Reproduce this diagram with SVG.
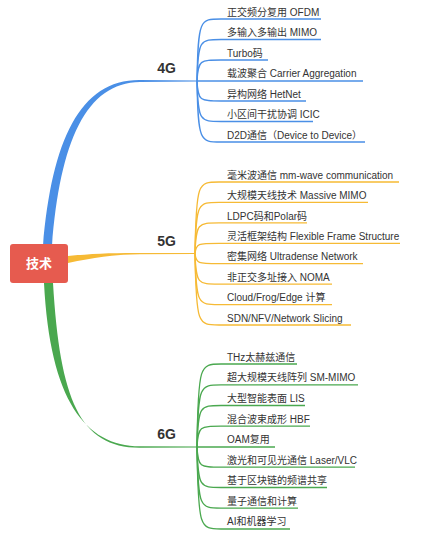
<svg xmlns="http://www.w3.org/2000/svg" width="425" height="537" viewBox="0 0 425 537">
<style>
.leaf{font-family:"Liberation Sans","Noto Sans CJK SC",sans-serif;font-size:10px;fill:#333}
.lbl{font-family:"Liberation Sans","Noto Sans CJK SC",sans-serif;font-size:14px;font-weight:bold;fill:#333;text-anchor:middle}
.b{fill:none;stroke:#4A8FE6;stroke-width:1.3}
.y{fill:none;stroke:#F6BA35;stroke-width:1.3}
.g{fill:none;stroke:#4AA84F;stroke-width:1.3}
</style>
<rect width="425" height="537" fill="#fff"/>
<g id="connectors">
<path d="M43,246 C52,140 80,79.5 140,80 L197,80.4 L197,81.6 L140,82 C86,82.5 60,142 52,246 Z" fill="#4A8FE6"/>
<path d="M68,256 C92,253.5 112,252.8 140,252.9 L195,253 L195,254 L140,254.2 C112,254.6 94,257.5 68,263 Z" fill="#F6BA35"/>
<path d="M44,283 C50,400 85,446 140,446.3 L197,446.4 L197,447.6 L140,447.7 C80,448 60,400 53,283 Z" fill="#4AA84F"/>
<g class="b">
<path d="M197,81 C198,19 200,19 221,19 L321,19"/>
<path d="M197,81 C198,39.5 200,39.5 221,39.5 L321,39.5"/>
<path d="M197,81 C198,60 200,60 221,60 L268,60"/>
<path d="M197,81 L363,81"/>
<path d="M197,81 C198,101 200,101 221,101 L306,101"/>
<path d="M197,81 C198,121.5 200,121.5 221,121.5 L313,121.5"/>
<path d="M197,81 C198,142 200,142 221,142 L365,142"/>
</g>
<g class="y">
<path d="M195,253.5 C196,182 198,182 219,182 L399,182"/>
<path d="M195,253.5 C196,202.4 198,202.4 219,202.4 L368,202.4"/>
<path d="M195,253.5 C196,222.9 198,222.9 219,222.9 L307,222.9"/>
<path d="M195,253.5 C196,243.3 198,243.3 219,243.3 L400,243.3"/>
<path d="M195,253.5 C196,263.7 198,263.7 219,263.7 L363,263.7"/>
<path d="M195,253.5 C196,284.2 198,284.2 219,284.2 L332,284.2"/>
<path d="M195,253.5 C196,304.6 198,304.6 219,304.6 L332,304.6"/>
<path d="M195,253.5 C196,325 198,325 219,325 L351,325"/>
</g>
<g class="g">
<path d="M197,447 C198,364 200,364 221,364 L297,364"/>
<path d="M197,447 C198,384.8 200,384.8 221,384.8 L358,384.8"/>
<path d="M197,447 C198,405.5 200,405.5 221,405.5 L305,405.5"/>
<path d="M197,447 C198,426.2 200,426.2 221,426.2 L310,426.2"/>
<path d="M197,447 L275,447"/>
<path d="M197,447 C198,467.2 200,467.2 221,467.2 L355,467.2"/>
<path d="M197,447 C198,487.5 200,487.5 221,487.5 L327,487.5"/>
<path d="M197,447 C198,508.2 200,508.2 221,508.2 L298,508.2"/>
<path d="M197,447 C198,529 200,529 221,529 L290,529"/>
</g>
</g>
<g id="root">
<rect x="10" y="244" width="58" height="39" rx="3" fill="#E65B4F"/>
<text x="39" y="268" font-family="Liberation Sans,Noto Sans CJK SC,sans-serif" font-size="13" font-weight="bold" fill="#fff" text-anchor="middle">技术</text>
</g>
<g id="n4g"><text class="lbl" x="166.5" y="73">4G</text></g>
<g id="n5g"><text class="lbl" x="166.5" y="246">5G</text></g>
<g id="n6g"><text class="lbl" x="166.5" y="439">6G</text></g>
<g id="leaves4g">
<text class="leaf" x="227" y="15.5">正交频分复用 OFDM</text>
<text class="leaf" x="227" y="36">多输入多输出 MIMO</text>
<text class="leaf" x="227" y="56.5">Turbo码</text>
<text class="leaf" x="227" y="77">载波聚合 Carrier Aggregation</text>
<text class="leaf" x="227" y="97.5">异构网络 HetNet</text>
<text class="leaf" x="227" y="118">小区间干扰协调 ICIC</text>
<text class="leaf" x="227" y="138.5">D2D通信（Device to Device）</text>
</g>
<g id="leaves5g">
<text class="leaf" x="227" y="178.5">毫米波通信 mm-wave communication</text>
<text class="leaf" x="227" y="199">大规模天线技术 Massive MIMO</text>
<text class="leaf" x="227" y="219.5">LDPC码和Polar码</text>
<text class="leaf" x="227" y="240">灵活框架结构 Flexible Frame Structure</text>
<text class="leaf" x="227" y="260">密集网络 Ultradense Network</text>
<text class="leaf" x="227" y="280.5">非正交多址接入 NOMA</text>
<text class="leaf" x="227" y="301">Cloud/Frog/Edge 计算</text>
<text class="leaf" x="227" y="321.5">SDN/NFV/Network Slicing</text>
</g>
<g id="leaves6g">
<text class="leaf" x="227" y="360.5">THz太赫兹通信</text>
<text class="leaf" x="227" y="381">超大规模天线阵列 SM-MIMO</text>
<text class="leaf" x="227" y="402">大型智能表面 LIS</text>
<text class="leaf" x="227" y="422.5">混合波束成形 HBF</text>
<text class="leaf" x="227" y="443">OAM复用</text>
<text class="leaf" x="227" y="463.5">激光和可见光通信 Laser/VLC</text>
<text class="leaf" x="227" y="484">基于区块链的频谱共享</text>
<text class="leaf" x="227" y="504.5">量子通信和计算</text>
<text class="leaf" x="227" y="525">AI和机器学习</text>
</g>
</svg>
